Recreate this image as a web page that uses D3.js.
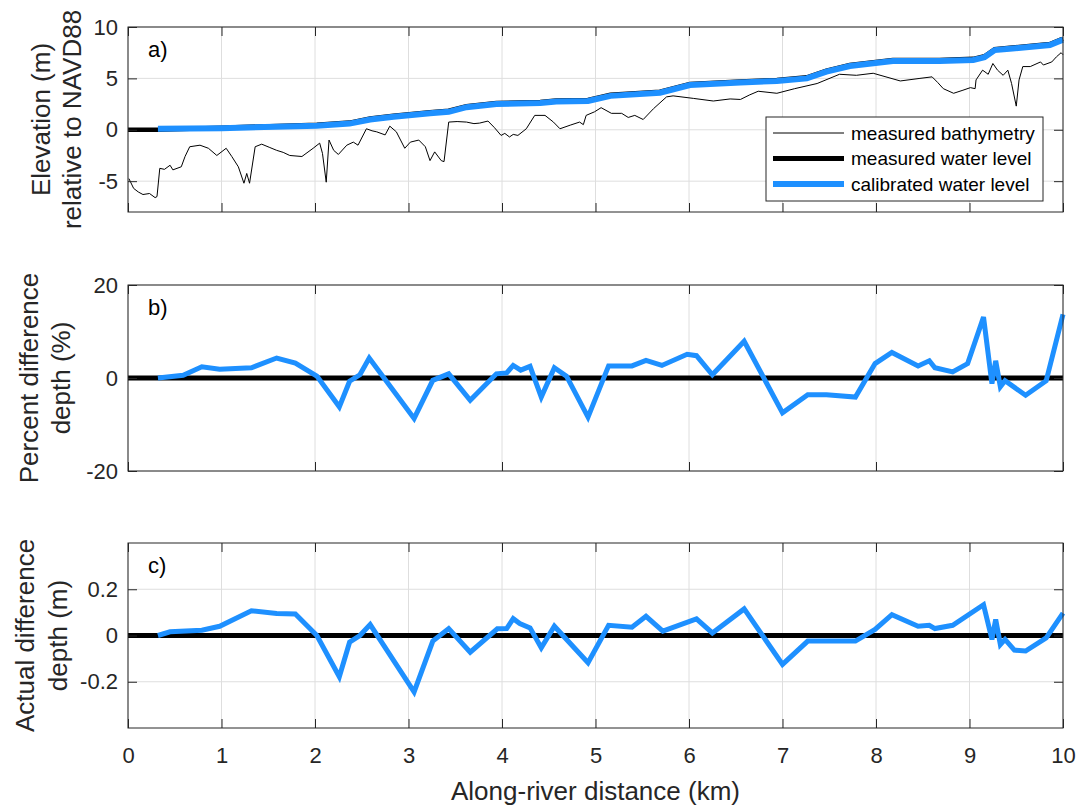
<!DOCTYPE html>
<html>
<head>
<meta charset="utf-8">
<script src="https://cdn.jsdelivr.net/npm/d3@7"></script>
<style>
  body { margin: 0; background: #fff; }
  svg { font-family: Arial, 'Liberation Sans', Helvetica, sans-serif; }
</style>
</head>
<body>
<div id="chart"></div>
<script>
// ---- data ----
const bathyDist = [0.01, 0.06, 0.11, 0.16, 0.23, 0.29, 0.31, 0.34, 0.39, 0.45, 0.48, 0.57, 0.61, 0.66, 0.77, 0.86,
  0.95, 1.05, 1.11, 1.18, 1.24, 1.27, 1.30, 1.36, 1.43, 1.51, 1.59, 1.66, 1.73, 1.86, 1.98, 2.05, 2.08, 2.12,
  2.15, 2.20, 2.25, 2.34, 2.41, 2.46, 2.55, 2.61, 2.66, 2.75, 2.80, 2.87, 2.96, 3.02, 3.11, 3.18, 3.23, 3.28,
  3.35, 3.38, 3.43, 3.52, 3.62, 3.70, 3.76, 3.85, 3.92, 3.99, 4.03, 4.08, 4.12, 4.17, 4.26, 4.35, 4.46, 4.55,
  4.62, 4.73, 4.83, 4.87, 4.90, 4.99, 5.06, 5.17, 5.28, 5.35, 5.42, 5.51, 5.62, 5.76, 5.83, 6.05, 6.26, 6.44,
  6.55, 6.65, 6.74, 6.94, 7.13, 7.37, 7.61, 7.79, 7.97, 8.26, 8.47, 8.60, 8.66, 8.72, 8.83, 8.93, 9.01, 9.06,
  9.07, 9.14, 9.20, 9.25, 9.30, 9.36, 9.41, 9.45, 9.50, 9.53, 9.57, 9.65, 9.76, 9.79, 9.88, 9.93, 9.98, 10.0];
const bathyElev = [-4.75, -5.7, -6.05, -6.3, -6.2, -6.6, -6.5, -3.75, -3.85, -3.45, -3.9, -3.6, -2.6, -1.65, -1.5, -1.8,
  -2.5, -1.8, -2.6, -3.6, -5.2, -4.25, -5.2, -1.65, -1.4, -1.7, -2.0, -2.2, -2.5, -2.6, -1.8, -1.3, -2.3, -5.1,
  -1.0, -2.0, -2.4, -1.5, -1.2, -1.5, 0.1, -0.1, -0.2, -0.5, 0.35, -0.2, -1.8, -1.2, -1.0, -1.65, -3.0, -2.15,
  -3.0, -3.1, 0.75, 0.8, 0.75, 0.6, 0.65, 0.85, 0.2, -0.55, -0.35, -0.7, -0.45, -0.55, 0.1, 1.4, 1.4, 0.75,
  0.1, 0.45, 0.75, 0.5, 1.4, 1.75, 2.15, 1.6, 1.6, 1.2, 1.4, 1.0, 2.05, 3.2, 3.3, 3.05, 2.8, 3.0,
  2.95, 3.4, 3.75, 3.55, 4.0, 4.5, 5.4, 5.3, 5.5, 4.75, 5.0, 5.15, 4.6, 4.0, 3.55, 3.85, 4.1, 4.0,
  4.85, 5.8, 5.4, 6.45, 5.8, 5.3, 5.8, 4.5, 2.3, 4.85, 6.15, 6.15, 6.6, 6.3, 6.6, 7.1, 7.5, 7.3];

const levelDist = [0, 0.32, 1.0, 2.02, 2.37, 2.59, 2.84, 3.23, 3.43, 3.62, 3.94, 4.41, 4.58, 4.92, 5.16, 5.69,
  6.01, 6.55, 6.94, 7.26, 7.47, 7.72, 8.18, 8.68, 9.04, 9.16, 9.27, 9.46, 9.86, 9.98, 10.0];
const measuredLevel = [0, 0, 0.2, 0.5, 0.7, 1.1, 1.36, 1.7, 1.85, 2.3, 2.6, 2.7, 2.85, 2.9, 3.4, 3.7,
  4.45, 4.7, 4.85, 5.1, 5.75, 6.3, 6.8, 6.8, 6.9, 7.15, 7.85, 8.0, 8.35, 8.8, 8.85];
const calibratedLevel = [null, 0.1, 0.15, 0.4, 0.6, 1.0, 1.26, 1.6, 1.75, 2.2, 2.5, 2.6, 2.75, 2.8, 3.3, 3.6,
  4.35, 4.6, 4.75, 5.0, 5.65, 6.2, 6.7, 6.7, 6.8, 7.05, 7.75, 7.9, 8.25, 8.7, 8.75];

const pctDist = [0.32, 0.59, 0.79, 0.98, 1.32, 1.59, 1.79, 2.02, 2.26, 2.37, 2.48, 2.58, 3.06, 3.26, 3.43, 3.66,
  3.94, 4.05, 4.12, 4.20, 4.30, 4.42, 4.56, 4.69, 4.92, 5.14, 5.39, 5.54, 5.71, 5.98, 6.08, 6.25, 6.59, 7.00,
  7.27, 7.47, 7.78, 7.99, 8.17, 8.45, 8.57, 8.63, 8.82, 8.98, 9.15, 9.24, 9.28, 9.33, 9.38, 9.60, 9.82, 10.0];
const pctDiff = [0, 0.6, 2.4, 1.9, 2.2, 4.3, 3.2, 0.4, -6.2, -0.7, 0.7, 4.3, -8.7, -0.5, 0.9, -4.8,
  0.9, 1.1, 2.7, 1.7, 2.5, -4.1, 2.2, 0.4, -8.4, 2.6, 2.6, 3.8, 2.7, 5.1, 4.8, 0.7, 7.9, -7.5,
  -3.6, -3.6, -4.1, 3.1, 5.5, 2.6, 3.7, 2.2, 1.3, 3.1, 13.1, -1.2, 3.7, -1.9, -0.6, -3.7, -0.6, 13.7];

const depthDist = [0.32, 0.45, 0.79, 0.98, 1.32, 1.59, 1.79, 2.02, 2.26, 2.37, 2.48, 2.59, 3.06, 3.26, 3.43, 3.66,
  3.95, 4.05, 4.12, 4.19, 4.30, 4.42, 4.56, 4.92, 5.14, 5.39, 5.54, 5.72, 6.08, 6.25, 6.59, 7.00, 7.27, 7.78,
  7.99, 8.17, 8.45, 8.57, 8.63, 8.82, 9.15, 9.24, 9.28, 9.33, 9.38, 9.48, 9.60, 9.82, 10.0];
const depthDiff = [0, 0.016, 0.023, 0.04, 0.107, 0.095, 0.093, 0, -0.178, -0.029, 0, 0.047, -0.244, -0.024, 0.03, -0.072,
  0.029, 0.03, 0.073, 0.052, 0.033, -0.053, 0.04, -0.118, 0.044, 0.036, 0.083, 0.019, 0.072, 0.011, 0.115, -0.125, -0.024, -0.024,
  0.026, 0.09, 0.04, 0.044, 0.03, 0.044, 0.133, -0.017, 0.069, -0.039, -0.017, -0.063, -0.067, -0.01, 0.097];

const kmTicks = [0, 1, 2, 3, 4, 5, 6, 7, 8, 9, 10];
const kmTicksEven = [0, 2, 4, 6, 8, 10];
const legendItems = ['measured bathymetry', 'measured water level', 'calibrated water level'];

// ---- layout ----
const W = 1079, H = 805;
const left = 128, right = 1063;
const BLUE = '#1e90ff', AXIS = '#262626', GRID = '#dedede';
const TICK = 9;
const FONT = 'Arial, Liberation Sans, Helvetica, sans-serif';

const fmt = v => String(v).replace('\u2212', '-');

const svg = d3.select('#chart').append('svg').attr('width', W).attr('height', H);
const x = d3.scaleLinear().domain([0, 10]).range([left, right]);

const drawPanel = ({ top, bottom, yDomain, yTicks, xTicks, xLabels, letter, label, labelX }) => {
  const y = d3.scaleLinear().domain(yDomain).range([bottom, top]);
  const g = svg.append('g');

  // grid
  g.append('g').selectAll('line').data(xTicks).join('line')
    .attr('x1', d => x(d)).attr('x2', d => x(d)).attr('y1', top).attr('y2', bottom)
    .attr('stroke', GRID).attr('stroke-width', 1);
  g.append('g').selectAll('line').data(yTicks).join('line')
    .attr('x1', left).attr('x2', right).attr('y1', d => y(d)).attr('y2', d => y(d))
    .attr('stroke', GRID).attr('stroke-width', 1);

  const plot = g.append('g');

  // axes, MATLAB style: inward ticks on all four sides
  const styleAxis = sel => {
    sel.select('.domain').remove();
    sel.selectAll('.tick line').attr('stroke', AXIS);
    sel.selectAll('.tick text').attr('fill', AXIS).attr('font-size', 22).attr('font-family', FONT);
  };
  const axes = g.append('g');
  axes.append('g').attr('transform', `translate(0,${bottom})`)
    .call(d3.axisBottom(x).tickValues(xTicks).tickSizeInner(-TICK).tickSizeOuter(0)
      .tickPadding(19).tickFormat(xLabels ? fmt : () => ''))
    .call(styleAxis);
  axes.append('g').attr('transform', `translate(0,${top})`)
    .call(d3.axisTop(x).tickValues(xTicks).tickSizeInner(-TICK).tickSizeOuter(0).tickFormat(() => ''))
    .call(styleAxis);
  axes.append('g').attr('transform', `translate(${left},0)`)
    .call(d3.axisLeft(y).tickValues(yTicks).tickSizeInner(-TICK).tickSizeOuter(0)
      .tickPadding(10).tickFormat(d => fmt(d3.format('')(d))))
    .call(styleAxis);
  axes.append('g').attr('transform', `translate(${right},0)`)
    .call(d3.axisRight(y).tickValues(yTicks).tickSizeInner(-TICK).tickSizeOuter(0).tickFormat(() => ''))
    .call(styleAxis);
  axes.append('rect').attr('x', left).attr('y', top).attr('width', right - left).attr('height', bottom - top)
    .attr('fill', 'none').attr('stroke', AXIS).attr('stroke-width', 1);

  g.append('text').attr('x', left + 20).attr('y', top + 30).attr('font-size', 22).text(letter);

  label.forEach((line, i) => {
    const cx = labelX[i], cy = (top + bottom) / 2;
    g.append('text').attr('transform', `translate(${cx},${cy}) rotate(-90)`)
      .attr('text-anchor', 'middle').attr('dominant-baseline', 'central')
      .attr('font-size', 26).attr('fill', AXIS).text(line);
  });

  return { y, plot };
};

// panel a
const pa = drawPanel({
  top: 27, bottom: 212, yDomain: [-8, 10], yTicks: [-5, 0, 5, 10], xTicks: kmTicks, xLabels: false,
  letter: 'a)', label: ['Elevation (m)', 'relative to NAVD88'], labelX: [41, 72],
});
const bathyLine = d3.line().x((d, i) => x(bathyDist[i])).y(d => pa.y(d));
pa.plot.append('path').datum(bathyElev).attr('d', bathyLine)
  .attr('fill', 'none').attr('stroke', '#000').attr('stroke-width', 1);
const levelLine = d3.line().defined(d => d !== null).x((d, i) => x(levelDist[i])).y(d => pa.y(d));
pa.plot.append('path').datum(measuredLevel).attr('d', levelLine)
  .attr('fill', 'none').attr('stroke', '#000').attr('stroke-width', 4.5);
pa.plot.append('path').datum(calibratedLevel).attr('d', levelLine)
  .attr('fill', 'none').attr('stroke', BLUE).attr('stroke-width', 6);

// legend
const lg = svg.append('g').attr('transform', 'translate(766,117)');
lg.append('rect').attr('width', 277).attr('height', 84).attr('fill', '#fff').attr('stroke', AXIS).attr('stroke-width', 1);
const legendStyles = [{ c: '#000', w: 1 }, { c: '#000', w: 5 }, { c: BLUE, w: 6 }];
legendItems.forEach((t, i) => {
  const yy = 16 + i * 25.5;
  lg.append('line').attr('x1', 7).attr('x2', 78).attr('y1', yy).attr('y2', yy)
    .attr('stroke', legendStyles[i].c).attr('stroke-width', legendStyles[i].w);
  lg.append('text').attr('x', 85).attr('y', yy).attr('dominant-baseline', 'central')
    .attr('font-size', 19).text(t);
});

// panel b
const pb = drawPanel({
  top: 285, bottom: 471, yDomain: [-20, 20], yTicks: [-20, 0, 20], xTicks: kmTicksEven, xLabels: false,
  letter: 'b)', label: ['Percent difference', 'depth (%)'], labelX: [29, 61],
});
pb.plot.append('line').attr('x1', x(0)).attr('x2', x(10)).attr('y1', pb.y(0)).attr('y2', pb.y(0))
  .attr('stroke', '#000').attr('stroke-width', 5);
pb.plot.append('path').datum(pctDiff)
  .attr('d', d3.line().x((d, i) => x(pctDist[i])).y(d => pb.y(d)))
  .attr('fill', 'none').attr('stroke', BLUE).attr('stroke-width', 5).attr('stroke-linejoin', 'miter');

// panel c
const pc = drawPanel({
  top: 543, bottom: 728, yDomain: [-0.4, 0.4], yTicks: [-0.2, 0, 0.2], xTicks: kmTicks, xLabels: true,
  letter: 'c)', label: ['Actual difference', 'depth (m)'], labelX: [25, 58],
});
pc.plot.append('line').attr('x1', x(0)).attr('x2', x(10)).attr('y1', pc.y(0)).attr('y2', pc.y(0))
  .attr('stroke', '#000').attr('stroke-width', 5);
pc.plot.append('path').datum(depthDiff)
  .attr('d', d3.line().x((d, i) => x(depthDist[i])).y(d => pc.y(d)))
  .attr('fill', 'none').attr('stroke', BLUE).attr('stroke-width', 5).attr('stroke-linejoin', 'miter');

svg.append('text').attr('x', (left + right) / 2).attr('y', 791).attr('text-anchor', 'middle')
  .attr('dominant-baseline', 'central').attr('font-size', 26).attr('fill', AXIS)
  .text('Along-river distance (km)');
</script>
</body>
</html>
